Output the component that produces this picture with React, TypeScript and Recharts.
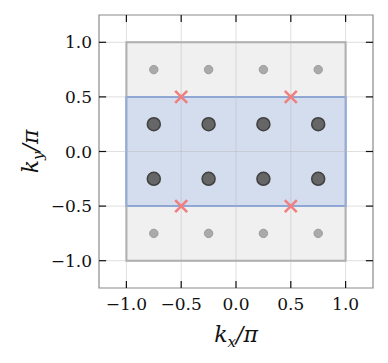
import { ScatterChart, Scatter, XAxis, YAxis, ReferenceArea, ReferenceLine } from 'recharts';

const ticks = [-1, -0.5, 0, 0.5, 1];
const domain: [number, number] = [-1.25, 1.25];

const bigDots = [
  { x: -0.75, y: 0.25 }, { x: -0.25, y: 0.25 }, { x: 0.25, y: 0.25 }, { x: 0.75, y: 0.25 },
  { x: -0.75, y: -0.25 }, { x: -0.25, y: -0.25 }, { x: 0.25, y: -0.25 }, { x: 0.75, y: -0.25 },
];
const smallDots = [
  { x: -0.75, y: 0.75 }, { x: -0.25, y: 0.75 }, { x: 0.25, y: 0.75 }, { x: 0.75, y: 0.75 },
  { x: -0.75, y: -0.75 }, { x: -0.25, y: -0.75 }, { x: 0.25, y: -0.75 }, { x: 0.75, y: -0.75 },
];
const crosses = [
  { x: -0.5, y: 0.5 }, { x: 0.5, y: 0.5 }, { x: -0.5, y: -0.5 }, { x: 0.5, y: -0.5 },
];
const outerBox = { x1: -1, x2: 1, y1: -1, y2: 1 };
const innerBox = { x1: -1, x2: 1, y1: -0.5, y2: 0.5 };

const FONT = 'DejaVu Serif';
const TL = 0.065; // tick length in data units

const fmt = (v: number) => (v < 0 ? '\u2212' : '') + Math.abs(v).toFixed(1);

const BigDot = (p: any) => (
  <circle cx={p.cx} cy={p.cy} r={6.5} fill="#666666" stroke="#404040" strokeWidth={1.5} />
);
const SmallDot = (p: any) => (
  <circle cx={p.cx} cy={p.cy} r={4.2} fill="#aaaaaa" stroke="#9a9a9a" strokeWidth={1} />
);
const Cross = (p: any) => {
  const s = 6;
  return (
    <g stroke="#f08080" strokeWidth={2.6}>
      <line x1={p.cx - s} y1={p.cy - s} x2={p.cx + s} y2={p.cy + s} />
      <line x1={p.cx - s} y1={p.cy + s} x2={p.cx + s} y2={p.cy - s} />
    </g>
  );
};

export default function App() {
  return (
    <div style={{ width: 380, height: 355, fontFamily: FONT }}>
      <ScatterChart width={380} height={355} margin={{ top: 7, right: 15, left: 0, bottom: 0 }} style={{ fontFamily: FONT }}>
        <XAxis
          type="number"
          dataKey="x"
          domain={domain}
          ticks={ticks}
          tickFormatter={fmt}
          allowDataOverflow
          tickLine={false}
          tickSize={0}
          tickMargin={10}
          axisLine={false}
          height={75}
          tick={{ fill: '#111', fontSize: 17, fontFamily: FONT }}
          label={(props: any) => {
            const vb = props.viewBox;
            return (
              <text x={vb.x + vb.width / 2} y={vb.y + 54} textAnchor="middle" fontFamily={FONT} fontSize={22} fill="#111" fontStyle="italic">
                k<tspan fontSize={15} dy={5}>x</tspan><tspan dy={-5}>/π</tspan>
              </text>
            );
          }}
        />
        <YAxis
          type="number"
          dataKey="y"
          domain={domain}
          ticks={ticks}
          tickFormatter={fmt}
          allowDataOverflow
          tickLine={false}
          tickSize={0}
          tickMargin={7}
          axisLine={false}
          width={91}
          tick={{ fill: '#111', fontSize: 17, fontFamily: FONT }}
          label={(props: any) => {
            const vb = props.viewBox;
            const cx = 30;
            const cy = vb.y + vb.height / 2;
            return (
              <text x={cx} y={cy} transform={`rotate(-90 ${cx} ${cy})`} textAnchor="middle" fontFamily={FONT} fontSize={22} fill="#111" fontStyle="italic">
                k<tspan fontSize={15} dy={5}>y</tspan><tspan dy={-5}>/π</tspan>
              </text>
            );
          }}
        />
        <ReferenceArea {...outerBox} fill="#f0f0f0" fillOpacity={1} stroke="#ababab" strokeWidth={2} />
        <ReferenceArea {...innerBox} fill="#d3ddee" fillOpacity={1} stroke="#86a3dc" strokeWidth={2} />
        {ticks.map((t) => (
          <ReferenceLine key={'gx' + t} x={t} stroke="#b8b8b8" strokeOpacity={0.45} strokeWidth={1} />
        ))}
        {ticks.map((t) => (
          <ReferenceLine key={'gy' + t} y={t} stroke="#b8b8b8" strokeOpacity={0.45} strokeWidth={1} />
        ))}
        <ReferenceArea x1={domain[0]} x2={domain[1]} y1={domain[0]} y2={domain[1]} fill="none" stroke="#8a8a8a" strokeWidth={1.2} />
        {ticks.map((t) => (
          <ReferenceLine key={'tb' + t} segment={[{ x: t, y: domain[0] }, { x: t, y: domain[0] + TL }]} stroke="#111" strokeWidth={1.2} />
        ))}
        {ticks.map((t) => (
          <ReferenceLine key={'tt' + t} segment={[{ x: t, y: domain[1] }, { x: t, y: domain[1] - TL }]} stroke="#111" strokeWidth={1.2} />
        ))}
        {ticks.map((t) => (
          <ReferenceLine key={'tl' + t} segment={[{ x: domain[0], y: t }, { x: domain[0] + TL, y: t }]} stroke="#111" strokeWidth={1.2} />
        ))}
        {ticks.map((t) => (
          <ReferenceLine key={'tr' + t} segment={[{ x: domain[1], y: t }, { x: domain[1] - TL, y: t }]} stroke="#111" strokeWidth={1.2} />
        ))}
        <Scatter data={smallDots} shape={SmallDot} isAnimationActive={false} />
        <Scatter data={bigDots} shape={BigDot} isAnimationActive={false} />
        <Scatter data={crosses} shape={Cross} isAnimationActive={false} />
      </ScatterChart>
    </div>
  );
}
